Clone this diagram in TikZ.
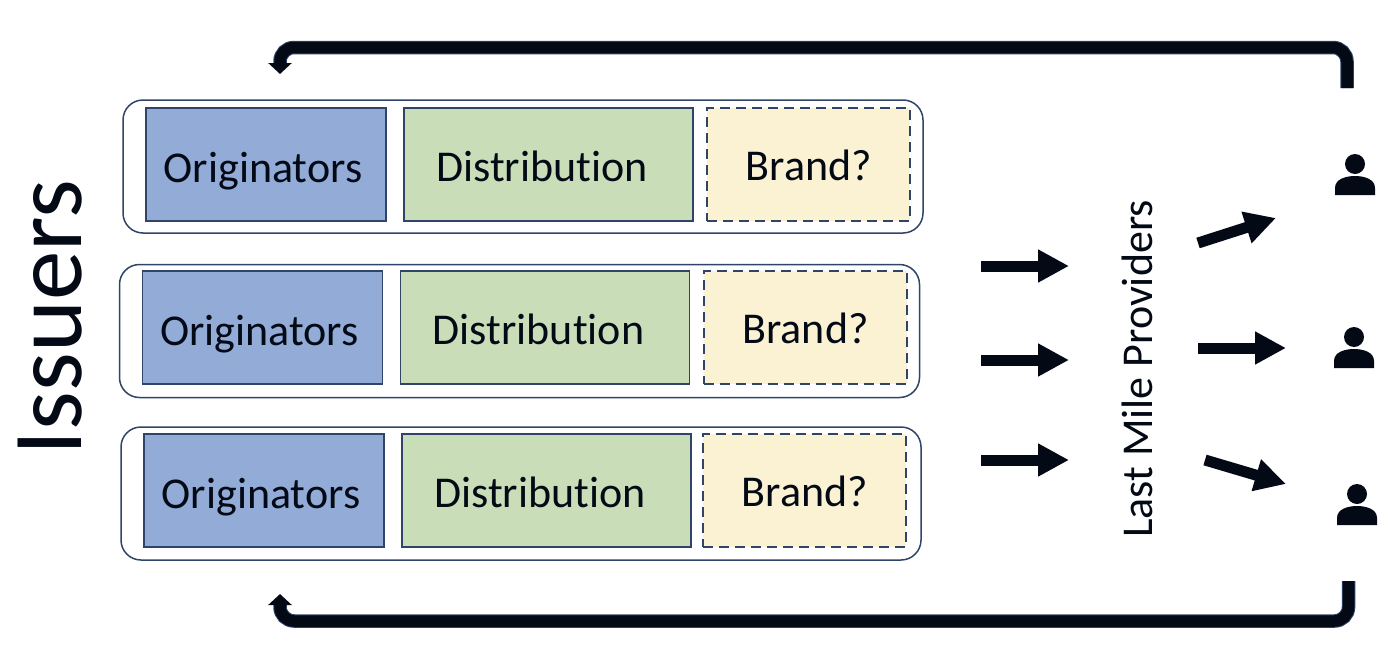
\documentclass[tikz,border=0pt]{standalone}
\usepackage{fontspec}
\setmainfont{Carlito}[Ligatures=NoCommon]
\usepackage{xcolor}
\usetikzlibrary{arrows.meta, positioning}

\definecolor{inkblack}{HTML}{030A16}
\definecolor{edgeblue}{HTML}{2F4468}
\definecolor{originblue}{HTML}{93ABD7}
\definecolor{distgreen}{HTML}{C9DEB8}
\definecolor{brandcream}{HTML}{FBF2D3}

\begin{document}
\begin{tikzpicture}[
  x=1pt,
  y=-1pt,
  rowbox/.style={
    rectangle,
    draw=edgeblue,
    line width=1.5pt,
    rounded corners=20pt,
    minimum width=800pt,
    minimum height=133pt,
    inner sep=0pt,
    outer sep=0pt
  },
  originbox/.style={
    rectangle,
    draw=edgeblue,
    fill=originblue,
    line width=1.5pt,
    minimum width=240pt,
    minimum height=113pt,
    inner sep=0pt,
    outer sep=0pt,
    text=inkblack,
    text height=35pt,
    text depth=0pt,
    execute at end node={\kern6pt},
    font=\fontsize{44}{44}\selectfont
  },
  distbox/.style={
    originbox,
    fill=distgreen,
    text height=33pt,
    execute at end node={\kern7pt},
    minimum width=289pt
  },
  brandbox/.style={
    originbox,
    fill=brandcream,
    text height=31pt,
    line width=2pt,
    dash pattern=on 10pt off 6pt,
    execute at end node={},
    execute at begin node={\kern7pt},
    minimum width=203pt
  },
  flowarrow/.style={
    -{Triangle[length=31pt,width=31pt]},
    line width=11pt,
    draw=inkblack
  },
  looparrow/.style={
    -{Triangle[length=11pt,width=23pt]},
    line width=11.5pt,
    draw=inkblack,
    rounded corners=14pt,
    preaction={draw=edgeblue, line width=13.5pt, -, shorten >=8pt}
  },
  person/.pic={
    \fill[inkblack] (0,-2) circle (10);
    \fill[inkblack] (-20,29) -- (-20,22) .. controls (-20,13) and (-9,10) .. (0,10)
      .. controls (9,10) and (20,13) .. (20,22) -- (20,29) -- cycle;
  },
  node distance=18pt
]

\useasboundingbox (0,0) rectangle (1400,648);

\node[rotate=90, text=inkblack, font=\fontsize{99}{99}\selectfont] (issuers) at (50,317.5) {Issuers};

\node[rowbox] (rowone) at (523,166.5) {};
\node[rowbox] (rowtwo) at (519.5,331) {};
\node[rowbox] (rowthree) at (521,493.5) {};

\node[originbox] (originone) at (266,164.5) {Originators};
\node[distbox, right=of originone] (distone) {Distribution};
\node[brandbox, right=14pt of distone] (brandone) {Brand?};

\node[originbox] (origintwo) at (262.5,327.5) {Originators};
\node[distbox, right=of origintwo] (disttwo) {Distribution};
\node[brandbox, right=14pt of disttwo] (brandtwo) {Brand?};

\node[originbox] (originthree) at (264,490.5) {Originators};
\node[distbox, right=of originthree] (distthree) {Distribution};
\node[brandbox, right=12pt of distthree] (brandthree) {Brand?};

\node[rotate=90, text=inkblack, font=\fontsize{44}{44}\selectfont] (lastmile) at (1137,369) {Last Mile Providers};

\pic (personone) at (1355,166) {person};
\pic (persontwo) at (1354,339) {person};
\pic (personthree) at (1357,496) {person};

\coordinate (inone) at (981,266);
\coordinate (intwo) at (981,360);
\coordinate (inthree) at (981,460);
\coordinate (lastone) at (1069,266);
\coordinate (lasttwo) at (1069,360);
\coordinate (lastthree) at (1069,460);

\coordinate (outone) at (1198,243);
\coordinate (outtwo) at (1198,348);
\coordinate (outthree) at (1205,460);
\coordinate (endone) at (1276,218);
\coordinate (endtwo) at (1286,348);
\coordinate (endthree) at (1286,484);

\coordinate (topstart) at (1347,88);
\coordinate (topcorner) at (1347,47.5);
\coordinate (topturn) at (280,47.5);
\coordinate (topend) at (280,74);

\coordinate (botstart) at (1348.5,581);
\coordinate (botcorner) at (1348.5,621);
\coordinate (botturn) at (280,621);
\coordinate (botend) at (280,594);

\draw[flowarrow] (inone) -- (lastone);
\draw[flowarrow] (intwo) -- (lasttwo);
\draw[flowarrow] (inthree) -- (lastthree);

\draw[flowarrow] (outone) -- (endone);
\draw[flowarrow] (outtwo) -- (endtwo);
\draw[flowarrow] (outthree) -- (endthree);

\draw[looparrow] (topstart) -- (topcorner) -- (topturn) -- (topend);
\draw[looparrow] (botstart) -- (botcorner) -- (botturn) -- (botend);

\end{tikzpicture}
\end{document}
